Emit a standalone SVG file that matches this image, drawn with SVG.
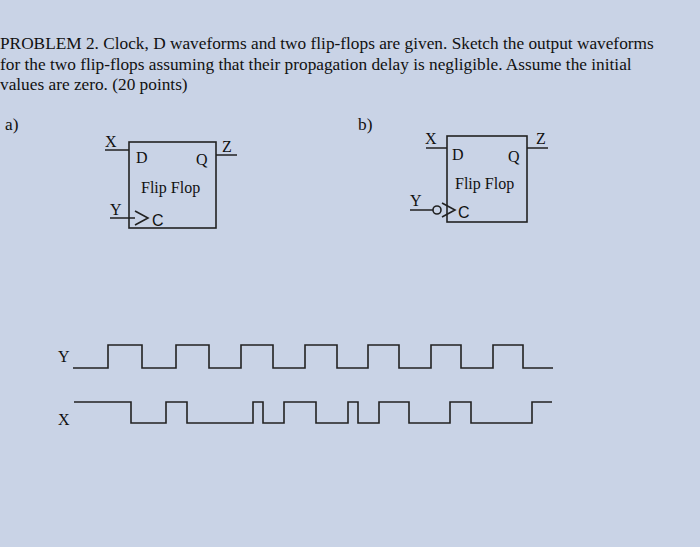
<svg xmlns="http://www.w3.org/2000/svg" width="700" height="547" viewBox="0 0 700 547">
<style>
.t{font-family:"Liberation Serif",serif;fill:#111}
.h{font-size:17.3px}
.w{fill:none;stroke:#222;stroke-width:1.6}
.s{font-family:"Liberation Sans",sans-serif;fill:#111}
</style>
<rect width="700" height="547" fill="#c9d3e6"/>
<text class="t h" x="0" y="49">PROBLEM 2. Clock, D waveforms and two flip-flops are given. Sketch the output waveforms</text>
<text class="t h" x="0" y="70">for the two flip-flops assuming that their propagation delay is negligible.  Assume the initial</text>
<text class="t h" x="0" y="90">values are zero. (20 points)</text>
<text class="t h" x="5" y="130">a)</text>
<text class="t h" x="358" y="130">b)</text>
<g id="ffa">
<rect class="w" x="129" y="142" width="87" height="86"/>
<path class="w" d="M105 150H129M216 155H237M110 218H135M135 211L148 218L135 225"/>
<text class="t" x="105" y="147" font-size="16">X</text>
<text class="t" x="222" y="152" font-size="16">Z</text>
<text class="t" x="110" y="215" font-size="16">Y</text>
<text class="t" x="136" y="163" font-size="16">D</text>
<text class="t" x="196" y="165" font-size="16">Q</text>
<text class="t" x="141" y="193" font-size="16">Flip Flop</text>
<text class="s" x="152" y="226" font-size="16">C</text>
</g>
<g id="ffb">
<rect class="w" x="447" y="136" width="80" height="86"/>
<path class="w" d="M426 148H447M527 148H548M410 210H433M442 203L455 210L442 217"/>
<circle class="w" cx="437" cy="210" r="4"/>
<text class="t" x="425" y="144" font-size="16">X</text>
<text class="t" x="536" y="144" font-size="16">Z</text>
<text class="t" x="410" y="206" font-size="16">Y</text>
<text class="t" x="452" y="160" font-size="16">D</text>
<text class="t" x="508" y="162" font-size="16">Q</text>
<text class="t" x="455" y="189" font-size="16">Flip Flop</text>
<text class="s" x="458" y="218" font-size="16">C</text>
</g>
<g id="waves">
<text class="t" x="58" y="362" font-size="16">Y</text>
<text class="t" x="58" y="425" font-size="16">X</text>
<path class="w" d="M73 368H108V345H142V368H176V345H209V368H241V345H273V368H305V345H337V368H368V345H399V368H431V345H461V368H493V345H523V368H553"/>
<path class="w" d="M74 402H131V423H166V402H187V423H253V402H263V423H284V402H316V423H348V402H358V423H379V402H409V423H450V402H471V423H532V402H552"/>
</g>
</svg>
